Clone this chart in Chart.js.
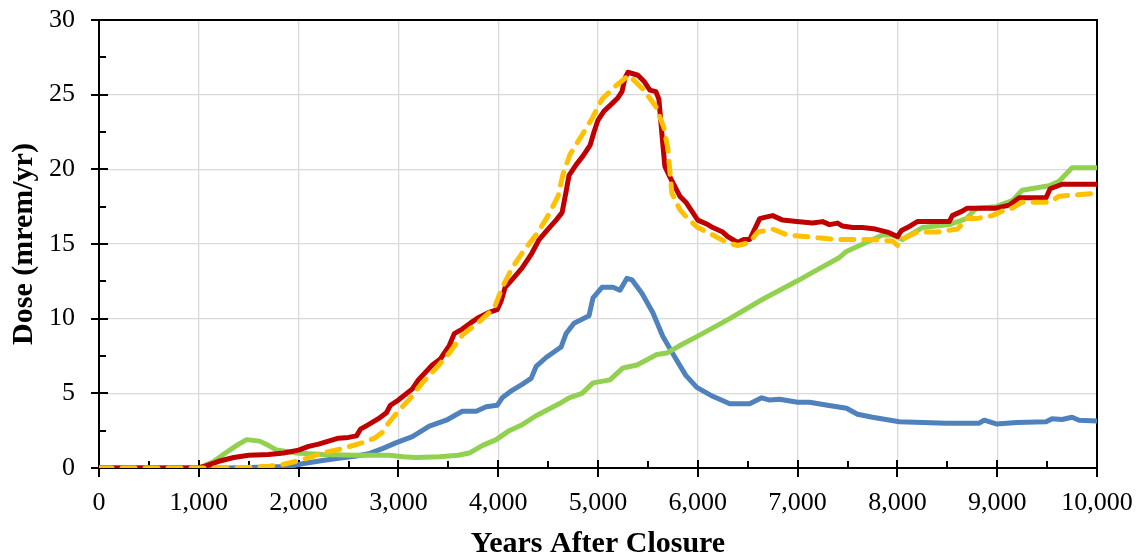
<!DOCTYPE html>
<html><head><meta charset="utf-8">
<script src="https://cdn.jsdelivr.net/npm/chart.js@4.4.1/dist/chart.umd.min.js"></script>
<style>html,body{margin:0;padding:0;background:#fff}#wrap{width:1142px;height:559px}</style>
</head><body><div id="wrap"><canvas id="c" width="1142" height="559"></canvas></div>
<script>
// ---- data (years after closure, dose in mrem/yr) ----
const redYears = [0,1000,1050,1200,1350,1500,1700,1850,2000,2100,2200,2300,2400,2500,2580,2620,2700,2800,2880,2920,3000,3140,3200,3340,3420,3510,3560,3640,3720,3810,3900,3990,4030,4070,4150,4240,4330,4410,4500,4580,4640,4680,4710,4780,4850,4920,4960,5000,5060,5140,5200,5240,5270,5300,5400,5460,5520,5580,5610,5640,5670,5720,5820,5880,5950,6000,6100,6150,6250,6300,6400,6460,6520,6620,6680,6750,6850,6990,7150,7250,7320,7400,7450,7550,7650,7780,7900,8000,8040,8100,8200,8400,8520,8550,8650,8700,8990,9120,9220,9490,9530,9650,10000];
const redDose  = [0,0,0.1,0.45,0.7,0.85,0.9,1.0,1.2,1.45,1.6,1.8,2.0,2.05,2.15,2.6,2.9,3.3,3.7,4.2,4.55,5.3,5.9,6.9,7.3,8.2,9.0,9.3,9.7,10.1,10.4,10.6,11.2,12.1,12.7,13.4,14.3,15.3,16.0,16.6,17.1,18.5,19.6,20.3,20.9,21.6,22.5,23.3,23.9,24.4,24.8,25.2,26.1,26.5,26.3,25.9,25.3,25.2,24.7,22.4,20.2,19.5,18.2,17.8,17.1,16.6,16.3,16.1,15.8,15.5,15.1,15.3,15.3,16.7,16.8,16.9,16.6,16.5,16.4,16.5,16.3,16.4,16.2,16.1,16.1,16.0,15.8,15.5,15.9,16.1,16.5,16.5,16.5,16.9,17.2,17.4,17.4,17.6,18.1,18.1,18.7,19.0,19.0];

const yellowYears = [0,1200,1500,1700,1850,2010,2150,2240,2440,2640,2760,2840,2900,2960,3040,3110,3240,3380,3510,3640,3810,3960,4040,4140,4260,4390,4500,4600,4650,4720,4840,4940,5040,5180,5310,5460,5580,5660,5700,5720,5740,5820,5900,6000,6150,6290,6400,6520,6600,6750,6900,7070,7390,7690,7950,8000,8040,8200,8400,8600,8700,8790,8950,9050,9150,9250,9500,9550,9620,10000];
const yellowDose  = [0,0,0.05,0.12,0.25,0.5,0.8,1.0,1.3,1.7,2.0,2.4,3.0,3.5,4.1,4.6,5.7,6.7,7.7,8.9,9.8,10.7,12.1,13.4,14.6,15.7,16.9,18.2,19.7,21.0,22.3,23.4,24.7,25.6,26.3,25.3,24.2,22.8,21.4,19.9,18.4,17.3,16.7,16.1,15.6,15.1,14.9,15.1,15.8,16.0,15.6,15.5,15.3,15.3,15.2,14.9,15.3,15.8,15.8,16.0,16.7,16.7,16.9,17.2,17.4,17.8,17.8,17.9,18.2,18.4];

const blueYears = [0,1300,1600,1900,2050,2240,2400,2580,2700,2840,2980,3140,3310,3480,3640,3780,3880,3990,4040,4140,4240,4330,4380,4480,4630,4680,4760,4910,4950,5040,5150,5220,5290,5340,5440,5550,5650,5790,5880,5990,6150,6320,6450,6520,6640,6720,6820,7000,7120,7300,7490,7600,7750,8020,8490,8820,8870,8990,9200,9490,9550,9650,9750,9820,10000];
const blueDose  = [0,0,0.05,0.1,0.3,0.5,0.65,0.8,0.95,1.3,1.7,2.1,2.8,3.2,3.8,3.8,4.1,4.2,4.7,5.2,5.6,6.0,6.8,7.4,8.1,9.0,9.7,10.2,11.4,12.1,12.1,11.9,12.7,12.6,11.7,10.4,8.8,7.2,6.2,5.4,4.8,4.3,4.3,4.3,4.7,4.55,4.6,4.4,4.4,4.2,4.0,3.6,3.4,3.1,3.0,3.0,3.2,2.95,3.05,3.1,3.3,3.25,3.4,3.2,3.15];

const greenYears = [0,1000,1140,1310,1400,1480,1610,1700,1780,1980,2240,2580,2910,3050,3180,3410,3600,3710,3840,3980,4110,4240,4380,4610,4710,4840,4950,5120,5250,5390,5590,5690,5820,5990,6320,6650,6990,7150,7420,7490,7850,7950,8050,8250,8520,8690,8790,8990,9150,9250,9520,9620,9750,10000];
const greenDose  = [0,0,0.4,1.2,1.6,1.9,1.8,1.5,1.2,1.0,0.9,0.85,0.85,0.75,0.7,0.75,0.85,1.0,1.5,1.9,2.5,2.9,3.5,4.3,4.7,5.0,5.7,5.9,6.7,6.9,7.6,7.7,8.2,8.8,10.0,11.3,12.5,13.1,14.1,14.5,15.6,15.6,15.3,16.1,16.3,16.7,17.4,17.5,17.9,18.6,18.9,19.2,20.1,20.1];

const xMin = 0, xMax = 10000, xMajor = 1000, xMinor = 500;
const yMin = 0, yMax = 30, yMajor = 5, yMinor = 2.5;
const xTitle = 'Years After Closure';
const yTitle = 'Dose (mrem/yr)';

function pts(xs, ys) { return xs.map((x, i) => ({ x: x, y: ys[i] })); }

const frame = {
  id: 'frame',
  beforeDatasetsDraw(chart) {
    const { ctx, chartArea: a, scales } = chart;
    const xs = scales.x, ys = scales.y;
    ctx.save();
    ctx.strokeStyle = '#000';
    ctx.lineWidth = 2;
    ctx.strokeRect(a.left, a.top, a.right - a.left, a.bottom - a.top);
    ctx.beginPath();
    for (let v = xMin; v <= xMax; v += xMinor) {
      const px = Math.round(xs.getPixelForValue(v));
      if (v % xMajor === 0) { ctx.moveTo(px, a.bottom - 8); ctx.lineTo(px, a.bottom + 9); }
      else { ctx.moveTo(px, a.bottom); ctx.lineTo(px, a.bottom - 7); }
    }
    for (let v = yMin; v <= yMax; v += yMinor) {
      const py = Math.round(ys.getPixelForValue(v));
      if (v % yMajor === 0) { ctx.moveTo(a.left - 8, py); ctx.lineTo(a.left + 9, py); }
      else { ctx.moveTo(a.left, py); ctx.lineTo(a.left + 7, py); }
    }
    ctx.stroke();
    ctx.restore();
  }
};

const tickFont = { family: 'Liberation Serif', size: 26 };
const titleFont = { family: 'Liberation Serif', size: 30, weight: 'bold' };

new Chart(document.getElementById('c'), {
  type: 'line',
  data: {
    datasets: [
      { data: pts(yellowYears, yellowDose), borderColor: '#FFC000', borderWidth: 5, borderDash: [13, 10], borderCapStyle: 'round', borderJoinStyle: 'round', order: 1 },
      { data: pts(redYears, redDose), borderColor: '#C00000', borderWidth: 5, borderJoinStyle: 'round', borderCapStyle: 'round', order: 2 },
      { data: pts(greenYears, greenDose), borderColor: '#92D050', borderWidth: 5, borderJoinStyle: 'round', borderCapStyle: 'round', order: 3 },
      { data: pts(blueYears, blueDose), borderColor: '#4F81BD', borderWidth: 5, borderJoinStyle: 'round', borderCapStyle: 'round', order: 4 }
    ]
  },
  options: {
    responsive: false,
    animation: false,
    devicePixelRatio: 1,
    layout: { padding: { left: 0, right: 45, top: 20, bottom: 0 } },
    elements: { point: { radius: 0, hoverRadius: 0 }, line: { tension: 0, fill: false } },
    plugins: { legend: { display: false }, tooltip: { enabled: false } },
    scales: {
      x: {
        type: 'linear', min: xMin, max: xMax,
        afterFit(s) { s.height = 91; s.paddingLeft = 0; s.paddingRight = 0; },
        grid: { color: '#d9d9d9', lineWidth: 1.3, drawTicks: false },
        border: { display: false },
        ticks: { stepSize: xMajor, autoSkip: false, maxRotation: 0, padding: 20, color: '#000', font: tickFont,
                 callback: v => Number(v).toLocaleString('en-US') },
        title: { display: true, text: xTitle, color: '#000', font: titleFont, padding: { top: 0, bottom: -3 } }
      },
      y: {
        min: yMin, max: yMax,
        afterFit(s) { s.width = 99; s.paddingTop = 0; s.paddingBottom = 0; },
        grid: { color: '#d9d9d9', lineWidth: 1.3, drawTicks: false },
        border: { display: false },
        ticks: { stepSize: yMajor, padding: 24, color: '#000', font: tickFont },
        title: { display: true, text: yTitle, color: '#000', font: titleFont, padding: { top: 6, bottom: 0 } }
      }
    }
  },
  plugins: [frame]
});
</script>
</body></html>
